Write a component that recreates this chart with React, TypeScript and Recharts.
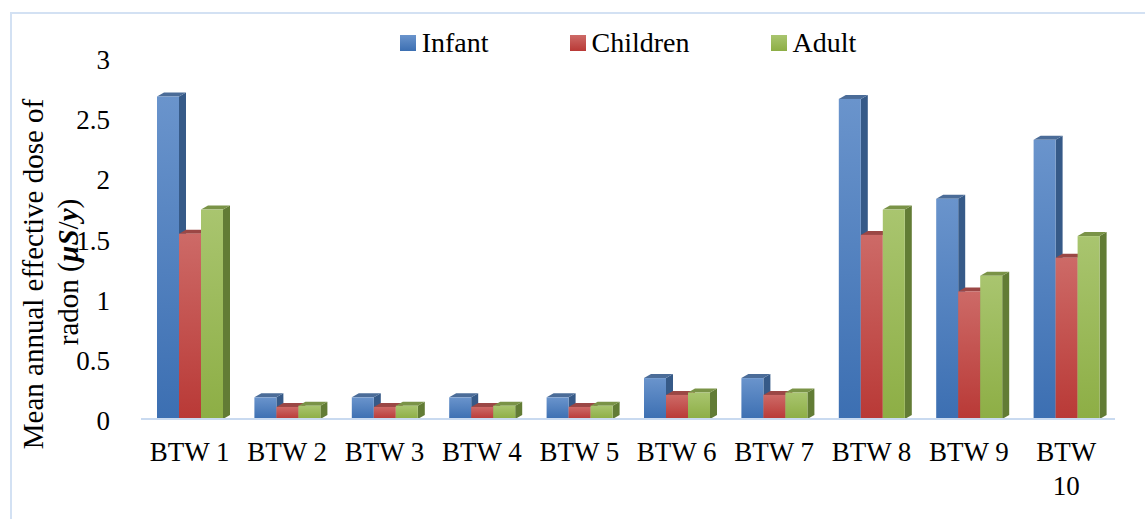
import { BarChart, Bar, XAxis, YAxis } from "recharts";

// values
const sites = ["BTW 1", "BTW 2", "BTW 3", "BTW 4", "BTW 5", "BTW 6", "BTW 7", "BTW 8", "BTW 9", "BTW 10"];
const infant = [2.68, 0.18, 0.18, 0.18, 0.18, 0.34, 0.34, 2.66, 1.83, 2.32];
const children = [1.54, 0.1, 0.1, 0.1, 0.1, 0.2, 0.2, 1.53, 1.06, 1.34];
const adult = [1.74, 0.11, 0.11, 0.11, 0.11, 0.22, 0.22, 1.74, 1.19, 1.52];
const yTicks = [0, 0.5, 1, 1.5, 2, 2.5, 3];

const data = sites.map((name, i) => ({
  name,
  infant: infant[i],
  children: children[i],
  adult: adult[i],
}));

const FONT = "'Liberation Serif', 'Times New Roman', serif";

const SERIES = [
  { key: "infant", label: "Infant", light: "#6a94cc", dark: "#3c6fb2", side: "#365a88", top: "#4b6c98" },
  { key: "children", label: "Children", light: "#cd6a67", dark: "#b93936", side: "#8a3634", top: "#9b4745" },
  { key: "adult", label: "Adult", light: "#a9c56f", dark: "#8dae45", side: "#627c35", top: "#7a9347" },
];

const DX = 7;
const DY = 4;

function make3DBar(s: (typeof SERIES)[number]) {
  return (props: any) => {
    const { x, y, width: w, height: h } = props;
    if (h == null || h <= 0) return <g />;
    return (
      <g>
        <polygon
          points={`${x + w},${y} ${x + w + DX},${y - DY} ${x + w + DX},${y + h - DY} ${x + w},${y + h}`}
          fill={s.side}
        />
        <polygon
          points={`${x},${y} ${x + DX},${y - DY} ${x + w + DX},${y - DY} ${x + w},${y}`}
          fill={s.top}
        />
        <rect x={x} y={y} width={w} height={h} fill={`url(#grad-${s.key})`} />
      </g>
    );
  };
}

function YTick(props: any) {
  const { x, y, payload } = props;
  return (
    <text x={x - 23} y={y + 11} textAnchor="end" fontFamily={FONT} fontSize={27} fill="#000">
      {payload.value}
    </text>
  );
}

function XTick(props: any) {
  const { x, y, payload } = props;
  const label: string = payload.value;
  // long labels wrap onto two lines like in the original
  const lines = label.length > 5 ? label.split(" ") : [label];
  return (
    <text x={x} y={y + 34} textAnchor="middle" fontFamily={FONT} fontSize={27} fill="#000">
      {lines.map((line, i) => (
        <tspan key={i} x={x} dy={i === 0 ? 0 : 34}>
          {line}
        </tspan>
      ))}
    </text>
  );
}

function YTitle() {
  return (
    <g fontFamily={FONT} fontSize={29} fill="#000">
      <text x={43} y={274} textAnchor="middle" transform="rotate(-90 43 274)">
        Mean annual effective dose of
      </text>
      <text x={78} y={272} textAnchor="middle" transform="rotate(-90 78 272)">
        radon (
        <tspan fontWeight="bold" fontStyle="italic">
          µS
        </tspan>
        /
        <tspan fontWeight="bold" fontStyle="italic">
          y
        </tspan>
        )
      </text>
    </g>
  );
}

function LegendBox() {
  return (
    <div
      style={{
        position: "absolute",
        left: 141,
        top: 26,
        width: 974,
        display: "flex",
        justifyContent: "center",
        gap: 81,
        fontFamily: FONT,
        fontSize: 28,
        lineHeight: "34px",
      }}
    >
      {SERIES.map((s) => (
        <div key={s.key} style={{ display: "flex", alignItems: "center", gap: 6 }}>
          <span
            style={{
              width: 16,
              height: 16,
              display: "inline-block",
              background: `linear-gradient(${s.light}, ${s.dark})`,
            }}
          />
          <span>{s.label}</span>
        </div>
      ))}
    </div>
  );
}

export default function App() {
  return (
    <div style={{ position: "absolute", left: 0, top: 0, width: 1145, height: 519, background: "#fff", overflow: "hidden" }}>
      <div
        style={{
          position: "absolute",
          left: 10,
          top: 12,
          width: 1145,
          height: 520,
          border: "2px solid #d3e1f3",
          boxSizing: "border-box",
        }}
      />
      <div style={{ position: "absolute", left: 0, top: 0 }}>
        <BarChart
          width={1145}
          height={519}
          data={data}
          margin={{ top: 58, right: 30, bottom: 40, left: 0 }}
          barGap={0}
          barSize={22}
        >
          <defs>
            {SERIES.map((s) => (
              <linearGradient key={s.key} id={`grad-${s.key}`} x1="0" y1="0" x2="0" y2="1">
                <stop offset="0%" stopColor={s.light} />
                <stop offset="100%" stopColor={s.dark} />
              </linearGradient>
            ))}
          </defs>
          <XAxis
            dataKey="name"
            height={60}
            axisLine={{ stroke: "#c9daf0", strokeWidth: 2 }}
            tickLine={false}
            tick={<XTick />}
            interval={0}
          />
          <YAxis
            width={141}
            domain={[0, 3]}
            ticks={yTicks}
            axisLine={false}
            tickLine={false}
            tick={<YTick />}
          />
          {SERIES.map((s) => (
            <Bar
              key={s.key}
              dataKey={s.key}
              name={s.label}
              fill={s.dark}
              shape={make3DBar(s)}
              isAnimationActive={false}
            />
          ))}
          <YTitle />
        </BarChart>
      </div>
      <LegendBox />
    </div>
  );
}
